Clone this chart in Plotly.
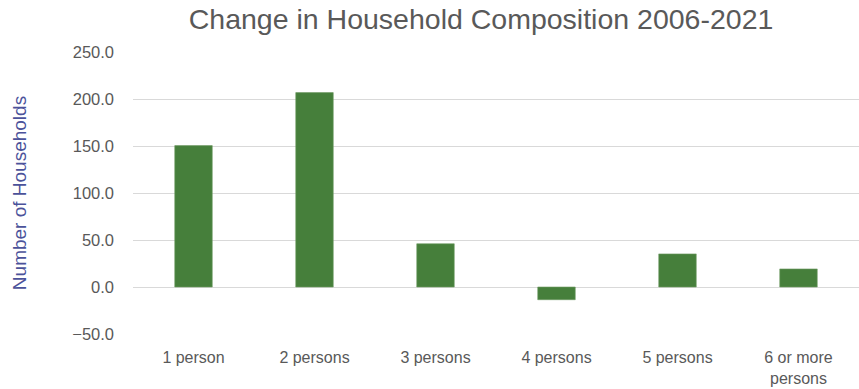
import plotly.graph_objects as go

# Household size categories and change in household counts, 2006-2021
categories = ["1 person", "2 persons", "3 persons", "4 persons", "5 persons", "6 or more<br>persons"]
change = [150.4, 206.8, 46.0, -13.5, 35.2, 19.2]
y_ticks = [-50, 0, 50, 100, 150, 200, 250]

fig = go.Figure(
    go.Bar(
        x=categories,
        y=change,
        marker=dict(color="#467F3B", line=dict(color="#6E9B63", width=0.6)),
        hoverinfo="x+y",
    )
)

fig.update_layout(
    width=859,
    height=389,
    margin=dict(l=133, r=0, t=52, b=55),
    paper_bgcolor="white",
    plot_bgcolor="white",
    bargap=0.69,
    showlegend=False,
    font=dict(family="Liberation Sans, Arial, sans-serif", color="#595959"),
    title=dict(
        text="Change in Household Composition 2006-2021",
        x=0.56,
        xanchor="center",
        y=0.95,
        yanchor="middle",
        font=dict(size=28.5, color="#595959"),
    ),
)

fig.update_xaxes(
    showgrid=False,
    showline=False,
    ticks="",
    tickfont=dict(size=16, color="#595959"),
    ticklabelstandoff=12,
)

fig.update_yaxes(
    range=[-50, 250],
    tickvals=y_ticks,
    tickformat=".1f",
    showgrid=True,
    gridcolor="#D9D9D9",
    gridwidth=1,
    zeroline=False,
    showline=False,
    ticks="",
    tickfont=dict(size=16.5, color="#595959"),
    ticklabelstandoff=18,
    title=dict(
        text="Number of Households",
        font=dict(size=19, color="#4B529A"),
        standoff=40,
    ),
)

fig.write_html("out.html")
